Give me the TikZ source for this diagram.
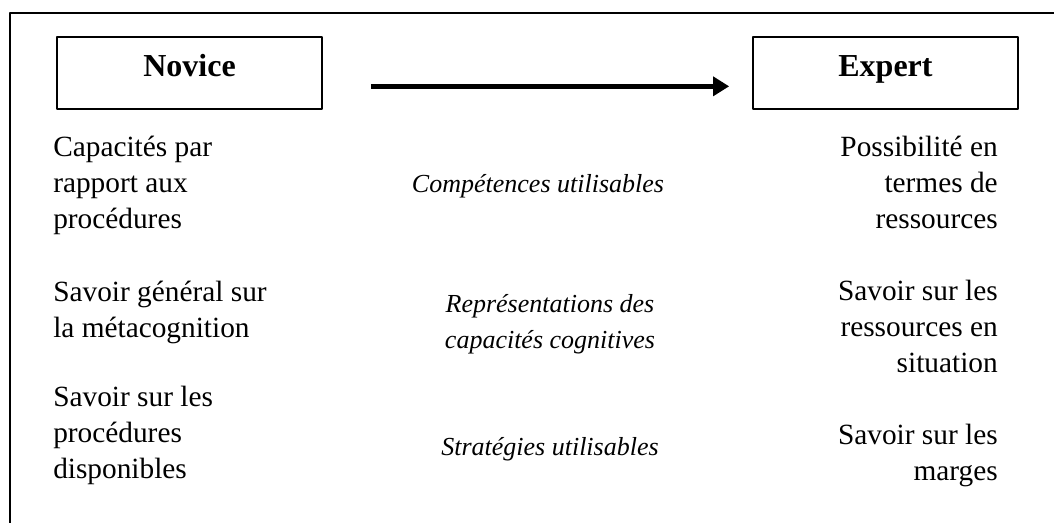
\documentclass[tikz,border=0pt]{standalone}
\usepackage{fontspec}
\setmainfont{Liberation Serif}
\usepackage{tikz}
\usetikzlibrary{positioning,arrows.meta}

\begin{document}
\begin{tikzpicture}[x=0.75pt,y=-0.75pt,line join=bevel,
    headbox/.style={draw,line width=1.2pt,minimum width=198.75pt,minimum height=54pt,
      inner sep=0pt,font=\fontsize{24}{28}\selectfont\bfseries,text height=16.5pt,text depth=11.7pt},
    lefttext/.style={anchor=base west,align=left,inner sep=0pt,font=\fontsize{22}{27}\selectfont},
    righttext/.style={anchor=base east,align=right,inner sep=0pt,font=\fontsize{22}{27}\selectfont},
    midtext/.style={anchor=base,align=center,inner sep=0pt,font=\fontsize{19.5}{27}\selectfont\itshape},
    bigarrow/.style={-{Triangle[length=12pt,width=14pt]},line width=3.75pt,shorten <=36pt,shorten >=17.25pt}]
  \useasboundingbox (0,0) rectangle (1054,523);
  %%
  % Frame
  \draw [line width=1.2pt] (10,523) -- (10,13) -- (1054,13);
  % Node: novice
  \node [headbox] (novice) at (189.5,73) {Novice};
  % Node: expert
  \node [headbox] (expert) at (885.5,73) {Expert};
  % Edge: novice -> expert
  \draw [bigarrow] ([yshift=-10pt]novice.east) -- ([yshift=-10pt]expert.west);
  % Nodes: novice column (base = last line)
  \node [lefttext] (capacites) at (53,229) {Capacités par\\rapport aux\\procédures};
  \node [lefttext] (savoirgen) at (53,338) {Savoir général sur\\la métacognition};
  \node [lefttext] (savoirproc) at (53,479) {Savoir sur les\\procédures\\disponibles};
  % Nodes: middle column
  \node [midtext] (competences) at (538,193) {Compétences utilisables};
  \node [midtext] (representations) at (550,349) {Représentations des\\capacités cognitives};
  \node [midtext] (strategies) at (550,456) {Stratégies utilisables};
  % Nodes: expert column
  \node [righttext] (possibilite) at (998,229) {Possibilité en\\termes de\\ressources};
  \node [righttext] (savoirres) at (998,373) {Savoir sur les\\ressources en\\situation};
  \node [righttext] (savoirmarges) at (998,481) {Savoir sur les\\marges};
  %
\end{tikzpicture}
\end{document}
